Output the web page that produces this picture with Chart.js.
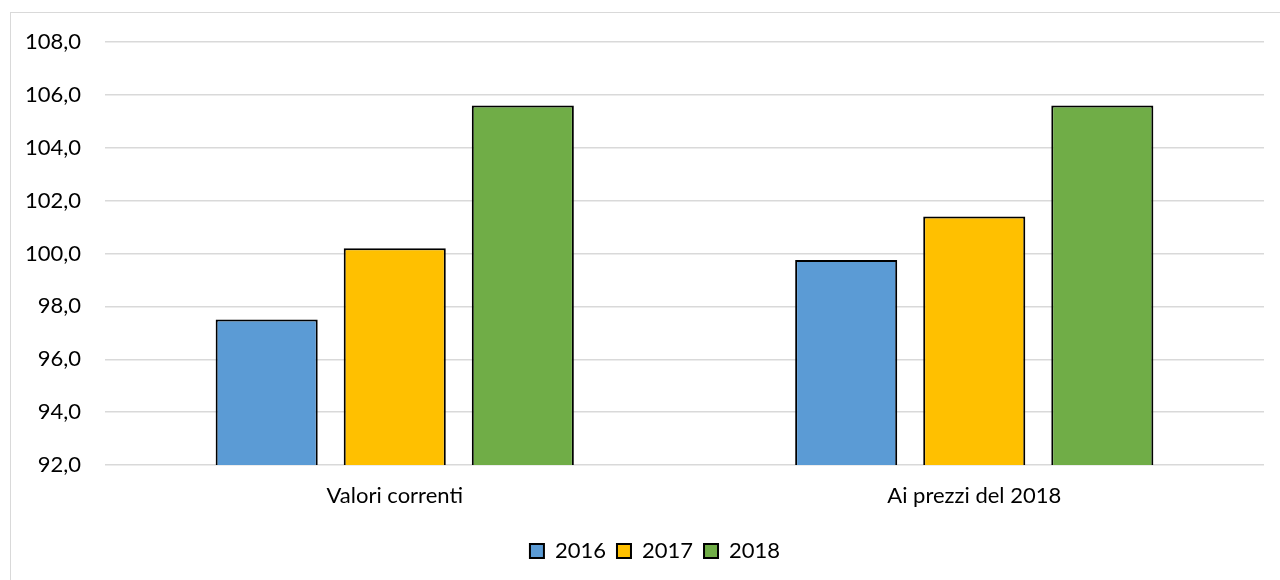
<!DOCTYPE html>
<html>
<head>
<meta charset="utf-8">
<script src="https://cdn.jsdelivr.net/npm/chart.js@4/dist/chart.umd.min.js"></script>
<style>
    html, body { margin: 0; padding: 0; background: #fff; overflow: hidden; }
    #wrap { position: relative; width: 1280px; height: 580px; }
    #frame { position: absolute; left: 10px; top: 12px; width: 1290px; height: 590px; border: 1px solid #d9d9d9; box-sizing: border-box; }
    canvas { position: absolute; left: 0; top: 0; }
</style>
</head>
<body>
<div id="wrap">
    <div id="frame"></div>
    <canvas id="chart" width="1280" height="580"></canvas>
</div>
<script>
    'use strict';

    // Chart data
    var categories = ['Valori correnti', 'Ai prezzi del 2018'];
    var seriesNames = ['2016', '2017', '2018'];
    var values2016 = [97.5, 99.75];
    var values2017 = [100.2, 101.4];
    var values2018 = [105.6, 105.6];
    var yTicks = [92, 94, 96, 98, 100, 102, 104, 106, 108];

    var colors = ['#5B9BD5', '#FFC000', '#70AD47'];
    var seriesValues = [values2016, values2017, values2018];

    Chart.defaults.font.family = 'Lato, "Open Sans", sans-serif';
    Chart.defaults.font.size = 22;
    Chart.defaults.color = '#000';

    var datasets = seriesNames.map(function(name, i) {
        return {
            label : name,
            data : seriesValues[i],
            backgroundColor : colors[i],
            borderColor : '#000',
            borderWidth : 2,
            categoryPercentage : 0.663,
            barPercentage : 0.797
        };
    });

    // Excel centres the legend a bit right of the canvas middle
    var legendShift = {
        id : 'legendShift',
        afterLayout : function(chart) {
            chart.legend.left += 23;
            chart.legend.right += 23;
        }
    };

    new Chart(document.getElementById('chart'), {
        type : 'bar',
        data : { labels : categories, datasets : datasets },
        plugins : [legendShift],
        options : {
            responsive : false,
            animation : false,
            layout : { padding : { left : 0, right : 16, top : 42, bottom : 8 } },
            plugins : {
                tooltip : { enabled : false },
                legend : {
                    position : 'bottom',
                    labels : {
                        boxWidth : 14,
                        boxHeight : 14,
                        padding : 11,
                        color : '#000'
                    }
                }
            },
            scales : {
                x : {
                    grid : { display : false },
                    border : { display : false },
                    ticks : { padding : 10, color : '#000' },
                    afterFit : function(scale) { scale.height = 64; }
                },
                y : {
                    min : yTicks[0],
                    max : yTicks[yTicks.length - 1],
                    afterBuildTicks : function(scale) {
                        scale.ticks = yTicks.map(function(v) { return { value : v }; });
                    },
                    grid : { color : '#d9d9d9', lineWidth : 1.5, drawTicks : false },
                    border : { display : false },
                    ticks : {
                        padding : 24,
                        color : '#000',
                        callback : function(v) { return v.toFixed(1).replace('.', ','); }
                    },
                    afterFit : function(scale) { scale.width = 105; }
                }
            }
        }
    });
</script>
</body>
</html>
